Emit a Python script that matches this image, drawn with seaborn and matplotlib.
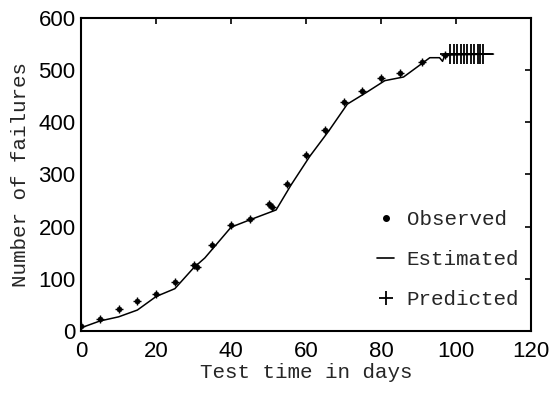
import numpy as np
import pandas as pd
import matplotlib
matplotlib.use('Agg')
import matplotlib.pyplot as plt
from matplotlib.lines import Line2D
import seaborn as sns

# observed failures (days, cumulative count)
obs_days = [0, 5, 10, 15, 20, 25, 30, 31, 35, 40, 45, 50, 51, 55, 60, 65, 70, 75, 80, 85, 91, 97]
obs_fail = [10, 23, 42, 57, 71, 94, 126, 122, 165, 203, 215, 243, 238, 282, 337, 385, 439, 460, 485, 495, 516, 529]

# estimated curve
est_days = [0, 5, 10, 15, 20, 25, 30, 33, 40, 45, 52, 56, 61, 66, 71, 76, 81, 86, 91.5, 93, 95.6, 96.4, 97, 110]
est_fail = [6, 19, 27, 40, 66, 81, 121, 140, 199, 213, 232, 280, 335, 383, 435, 457, 480, 487, 516, 524, 524, 517, 529, 531]

# predicted points
pred_days = [98.5, 99.4, 100.3, 101.2, 102.1, 103.0, 103.9, 104.8, 105.9, 106.5, 107.1]
pred_fail = [531, 531, 531, 531, 531, 531, 531, 531, 531, 531, 531]

sns.set_style("white")
plt.rcParams['font.family'] = ['Liberation Mono', 'DejaVu Sans Mono']

fig = plt.figure(figsize=(5.52, 3.93), dpi=100)
ax = fig.add_axes([0.147, 0.158, 0.815, 0.796])

sns.lineplot(x=est_days, y=est_fail, color='black', linewidth=1.1, ax=ax,
             estimator=None, sort=False)
sns.scatterplot(x=obs_days, y=obs_fail, color='black', s=14, marker='o',
                edgecolor='black', ax=ax, zorder=3)
sns.scatterplot(x=obs_days, y=obs_fail, color='black', s=30, marker='+',
                linewidth=1.0, ax=ax, zorder=3)
sns.scatterplot(x=pred_days, y=pred_fail, color='black', s=190, marker='+',
                linewidth=1.3, ax=ax, zorder=3)

ax.set_xlim(0, 120)
ax.set_ylim(0, 600)
ax.set_xticks(np.arange(0, 121, 20))
ax.set_yticks(np.arange(0, 601, 100))
for lab in ax.get_xticklabels() + ax.get_yticklabels():
    lab.set_family('Liberation Sans')
    lab.set_fontsize(16)
ax.tick_params(direction='in', length=4, width=1.2, top=True, right=True,
               colors='black')
ax.tick_params(axis='x', pad=7)
ax.tick_params(axis='y', pad=4)
for sp in ax.spines.values():
    sp.set_visible(True)
    sp.set_color('black')
    sp.set_linewidth(1.5)

ax.set_xlabel('Test time in days', fontsize=15, labelpad=1)
ax.set_ylabel('Number of failures', fontsize=15, labelpad=6)

handles = [
    Line2D([], [], color='black', marker='o', markersize=4, linestyle=''),
    Line2D([], [], color='black', linewidth=1.2),
    Line2D([], [], color='black', marker='+', markersize=10, markeredgewidth=1.3, linestyle=''),
]
ax.legend(handles, ['Observed', 'Estimated', 'Predicted'], loc='lower right',
          bbox_to_anchor=(1.015, 0.01), frameon=False, fontsize=15,
          handlelength=0.8, handletextpad=0.6, labelspacing=1.0)

fig.savefig('out.png', dpi=100)
